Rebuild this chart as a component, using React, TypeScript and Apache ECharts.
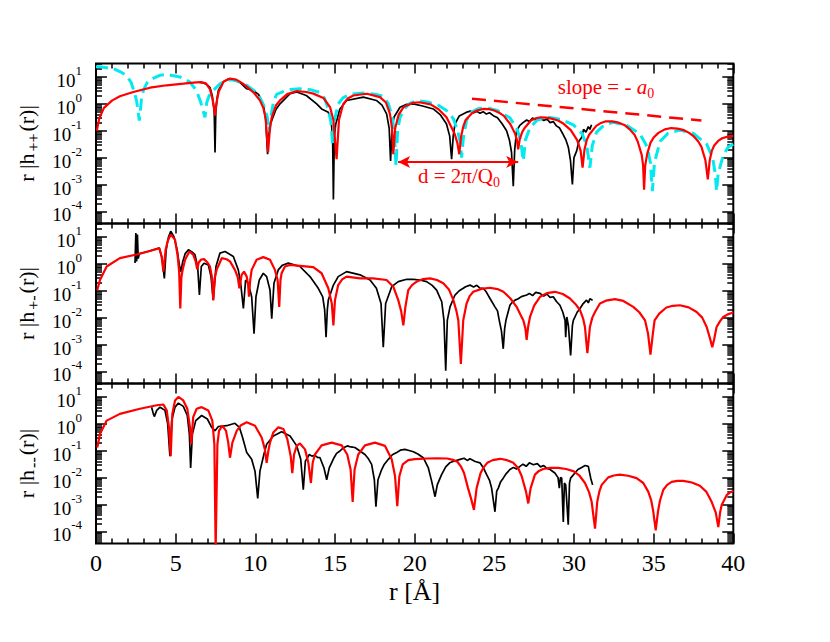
import React, { useEffect, useRef } from "react";
import * as echarts from "echarts";

const FONT = "'Liberation Serif', 'Times New Roman', serif";

// x: r in Angstrom; second value: log10 of r|h(r)|
const ppTheoryExp: [number, number][] = [[0.05,-1.0],[0.2,-0.55],[0.5,-0.15],[1.0,0.12],[1.5,0.28],[2.34,0.44],[3.39,0.6],[4.44,0.69],[5.48,0.75],[6.3,0.8],[6.6,0.81],[6.9,0.76],[7.15,0.55],[7.3,0.2],[7.4,-0.1],[7.47,-0.44],[7.55,0.0],[7.7,0.45],[8.0,0.82],[8.4,0.94],[8.8,0.9],[9.2,0.76],[9.46,0.64],[9.9,0.42],[10.29,0.13],[10.5,-0.15],[10.65,-0.55],[10.8,-1.8],[10.92,-0.9],[11.03,-0.5],[11.3,-0.05],[11.55,0.13],[12.0,0.36],[12.6,0.475],[13.2,0.44],[13.64,0.38],[14.27,0.22],[14.69,-0.12],[14.9,-0.6],[15.1,-2.06],[15.25,-0.6],[15.52,0.0],[15.8,0.2],[16.15,0.31],[17.0,0.375],[17.82,0.25],[18.2,0.05],[18.45,-0.375],[18.58,-0.9],[18.66,-1.875],[18.78,-0.9],[19.0,-0.4],[19.3,-0.12],[19.9,0.04],[20.3,0.06],[21.0,-0.02],[21.5,-0.2],[22.0,-0.5],[22.5,-1.1],[22.68,-1.45],[22.8,-1.875],[22.92,-1.2],[23.05,-0.85],[23.2,-0.6],[23.6,-0.35],[23.9,-0.25],[24.3,-0.19],[24.7,-0.2],[25.0,-0.25],[25.3,-0.33],[25.6,-0.45],[26.0,-0.75],[26.3,-1.1],[26.42,-1.35],[26.5,-1.69],[26.6,-1.3],[26.75,-1.05],[26.9,-0.9],[27.3,-0.62],[27.6,-0.54],[27.9,-0.5],[28.25,-0.51],[28.6,-0.55],[29.0,-0.62],[29.3,-0.72],[29.8,-0.98],[30.2,-1.35],[30.42,-1.75],[30.54,-2.375],[30.66,-1.7],[30.8,-1.35],[30.95,-1.15],[31.4,-0.82],[31.7,-0.71],[32.0,-0.65],[32.4,-0.65],[32.8,-0.7],[33.2,-0.8],[33.5,-0.95],[33.8,-1.15],[34.0,-1.4],[34.25,-1.9],[34.34,-2.3],[34.4,-3.19],[34.47,-2.3],[34.6,-1.85],[34.8,-1.45],[35.0,-1.25],[35.3,-1.08],[35.7,-0.95],[36.1,-0.9],[36.5,-0.92],[36.9,-0.98],[37.2,-1.07],[37.5,-1.2],[37.8,-1.4],[38.0,-1.6],[38.25,-2.1],[38.4,-2.81],[38.52,-2.1],[38.65,-1.75],[38.8,-1.55],[39.05,-1.38],[39.3,-1.28],[39.65,-1.22],[40.0,-1.19]];

const ppSimExp: [number, number][] = [[6.5,0.8],[6.73,0.78],[7.0,0.7],[7.16,0.6],[7.3,0.3],[7.42,-0.3],[7.47,-1.81],[7.52,-0.3],[7.6,0.2],[7.68,0.5],[8.0,0.82],[8.3,0.92],[8.62,0.88],[9.04,0.8],[9.46,0.56],[9.87,0.5],[10.2,0.35],[10.5,0.0],[10.65,-0.6],[10.77,-1.875],[10.88,-0.9],[11.03,-0.62],[11.3,-0.2],[11.55,0.0],[12.18,0.375],[12.6,0.44],[13.2,0.31],[13.85,0.0],[14.16,-0.19],[14.58,-0.31],[14.75,-0.6],[14.85,-1.2],[14.9,-3.56],[14.96,-1.2],[15.05,-0.75],[15.3,-0.2],[15.73,0.125],[16.78,0.25],[17.6,0.125],[17.95,-0.05],[18.24,-0.375],[18.4,-0.9],[18.49,-2.125],[18.58,-0.9],[18.7,-0.5],[19.08,-0.125],[19.5,-0.02],[19.92,0.0],[20.5,-0.08],[21.17,-0.19],[21.6,-0.4],[22.0,-0.75],[22.2,-1.2],[22.32,-2.06],[22.42,-1.2],[22.53,-0.75],[22.8,-0.45],[23.26,-0.31],[23.5,-0.27],[23.7,-0.33],[23.9,-0.28],[24.1,-0.35],[24.3,-0.29],[24.5,-0.38],[24.7,-0.33],[24.94,-0.44],[25.2,-0.52],[25.5,-0.75],[25.77,-1.0],[25.95,-1.35],[26.08,-1.8],[26.19,-3.06],[26.28,-1.7],[26.4,-1.0],[26.6,-0.8],[26.8,-0.7],[27.03,-0.6],[27.2,-0.66],[27.4,-0.53],[27.6,-0.6],[27.87,-0.53],[28.1,-0.62],[28.3,-0.56],[28.5,-0.7],[28.7,-0.66],[28.9,-0.82],[29.1,-0.9],[29.33,-1.15],[29.5,-1.35],[29.65,-1.625],[29.78,-2.1],[29.9,-3.0],[30.0,-2.0],[30.17,-1.75],[30.3,-1.4],[30.48,-1.25],[30.6,-0.95],[30.75,-1.05],[30.9,-0.85],[31.0,-0.95],[31.1,-0.78]];

const ppAltExp: [number, number][] = [[0.0,1.38],[0.25,1.375],[1.09,1.31],[1.5,1.2],[1.92,1.05],[2.2,0.8],[2.4,0.45],[2.55,0.1],[2.72,-0.625],[2.85,0.15],[2.97,0.5],[3.2,0.78],[3.39,0.9],[4.0,1.06],[4.44,1.09],[5.27,1.0],[5.9,0.81],[6.3,0.5],[6.55,0.1],[6.7,-0.2],[6.84,-0.5],[6.95,0.05],[7.1,0.3],[7.36,0.5],[7.8,0.75],[8.2,0.875],[8.62,0.9],[9.46,0.69],[10.0,0.45],[10.29,0.22],[10.55,-0.1],[10.75,-0.5],[10.88,-1.05],[11.0,-0.4],[11.15,0.1],[11.34,0.35],[11.8,0.47],[12.18,0.53],[12.8,0.56],[13.5,0.52],[14.06,0.42],[14.35,0.2],[14.58,-0.19],[14.75,-0.7],[14.85,-1.5],[14.97,-0.6],[15.2,0.0],[15.5,0.22],[15.94,0.36],[16.78,0.4],[17.5,0.36],[18.03,0.28],[18.35,0.0],[18.56,-0.4],[18.72,-1.0],[18.83,-2.31],[18.93,-1.0],[19.08,-0.5],[19.4,-0.15],[19.7,0.02],[20.13,0.12],[20.8,0.07],[21.4,-0.02],[22.0,-0.25],[22.43,-0.55],[22.7,-1.0],[22.85,-1.4],[22.95,-2.0],[23.05,-1.3],[23.26,-0.6],[23.6,-0.3],[24.0,-0.18],[24.5,-0.15],[25.2,-0.25],[25.98,-0.52],[26.4,-0.9],[26.65,-1.35],[26.82,-2.125],[26.95,-1.35],[27.24,-0.88],[27.7,-0.6],[28.4,-0.5],[29.2,-0.58],[29.96,-0.78],[30.5,-1.1],[30.8,-1.55],[31.0,-2.375],[31.15,-1.55],[31.42,-1.05],[31.9,-0.78],[32.47,-0.69],[33.3,-0.8],[34.14,-1.12],[34.6,-1.6],[34.8,-2.2],[34.92,-3.25],[35.05,-2.2],[35.4,-1.4],[35.9,-1.1],[36.65,-0.975],[37.5,-1.1],[38.33,-1.5],[38.7,-2.0],[38.87,-2.6],[38.95,-3.25],[39.05,-2.6],[39.37,-1.9],[39.69,-1.6],[40.0,-1.5]];

const pmTheoryExp: [number, number][] = [[0.08,-0.975],[0.25,-0.6],[0.67,-0.1],[1.5,0.21],[2.76,0.375],[3.81,0.55],[3.97,0.59],[4.12,0.27],[4.23,-0.29],[4.37,0.52],[4.5,0.85],[4.69,1.09],[4.96,0.9],[5.13,0.27],[5.22,-0.3],[5.29,-1.66],[5.36,-0.5],[5.44,-0.22],[5.59,0.15],[5.86,0.46],[6.1,0.34],[6.25,0.1],[6.35,-0.2],[6.45,0.05],[6.6,0.16],[6.78,0.175],[7.0,0.05],[7.15,-0.1],[7.28,-0.5],[7.36,-1.35],[7.45,-0.55],[7.57,-0.225],[7.89,0.21],[8.2,0.17],[8.41,0.09],[8.72,-0.225],[8.9,-0.5],[9.0,-0.91],[9.14,-0.41],[9.29,-0.29],[9.46,-0.475],[9.55,-0.8],[9.6,-1.225],[9.68,-0.6],[9.77,-0.225],[10.08,0.15],[10.5,0.25],[10.92,0.15],[11.23,-0.225],[11.4,-0.6],[11.5,-1.6],[11.58,-0.6],[11.65,-0.35],[11.86,-0.1],[12.18,-0.04],[12.8,-0.075],[13.64,-0.125],[14.16,-0.35],[14.58,-0.91],[14.8,-1.475],[14.9,-2.29],[15.0,-1.35],[15.2,-0.79],[15.45,-0.58],[15.73,-0.475],[16.57,-0.54],[17.4,-0.54],[18.24,-0.6],[18.66,-0.85],[18.97,-1.35],[19.15,-1.75],[19.29,-2.29],[19.42,-1.6],[19.6,-0.975],[19.85,-0.78],[20.13,-0.66],[20.5,-0.57],[20.96,-0.54],[21.4,-0.6],[21.8,-0.725],[22.15,-0.95],[22.43,-1.35],[22.62,-1.75],[22.74,-2.1],[22.9,-3.725],[23.05,-2.1],[23.26,-1.475],[23.45,-1.2],[23.68,-1.04],[24.2,-0.93],[24.73,-0.89],[25.2,-0.94],[25.57,-1.04],[26.0,-1.28],[26.4,-1.6],[26.65,-1.9],[26.82,-2.1],[26.95,-2.4],[27.03,-2.825],[27.12,-2.35],[27.24,-1.975],[27.5,-1.55],[27.87,-1.225],[28.3,-1.09],[28.8,-1.04],[29.3,-1.12],[29.75,-1.29],[30.1,-1.5],[30.38,-1.725],[30.58,-2.05],[30.69,-2.35],[30.84,-3.325],[31.0,-2.35],[31.15,-2.0],[31.32,-1.79],[31.63,-1.475],[32.0,-1.37],[32.57,-1.31],[33.1,-1.38],[33.72,-1.6],[34.1,-1.8],[34.46,-2.1],[34.65,-2.6],[34.8,-3.375],[34.95,-2.6],[35.06,-2.1],[35.35,-1.85],[35.8,-1.625],[36.2,-1.56],[36.65,-1.54],[37.2,-1.62],[37.7,-1.79],[38.05,-2.0],[38.33,-2.35],[38.55,-2.8],[38.68,-3.1],[38.8,-2.8],[38.95,-2.35],[39.15,-2.15],[39.37,-1.975],[39.65,-1.88],[39.9,-1.825],[40.0,-1.8]];

const pmSimExp: [number, number][] = [[2.45,0.03],[2.5,1.15],[2.55,0.09],[2.6,1.09],[2.65,0.2],[2.72,0.38],[3.2,0.45],[3.6,0.52],[3.97,0.59],[4.15,0.2],[4.29,-0.54],[4.4,0.5],[4.55,1.0],[4.69,1.21],[4.9,1.0],[5.1,0.5],[5.22,0.0],[5.32,-0.3],[5.45,0.1],[5.6,0.38],[5.8,0.525],[6.0,0.45],[6.21,0.34],[6.38,-0.1],[6.49,-1.16],[6.61,-0.1],[6.78,0.025],[7.05,-0.04],[7.22,-0.475],[7.36,-1.35],[7.53,-0.1],[7.78,0.4],[8.1,0.46],[8.62,0.275],[8.93,-0.225],[9.08,-0.725],[9.25,-1.66],[9.39,-0.6],[9.56,-0.725],[9.77,-1.225],[9.92,-2.6],[10.04,-1.225],[10.25,-0.6],[10.5,-0.35],[10.71,-0.475],[10.92,-0.975],[11.03,-2.04],[11.17,-0.725],[11.44,-0.225],[11.7,-0.05],[12.07,0.025],[12.8,-0.1],[13.43,-0.475],[13.95,-0.91],[14.23,-1.225],[14.35,-1.7],[14.44,-2.725],[14.52,-1.7],[14.58,-1.35],[14.9,-0.79],[15.2,-0.475],[15.73,-0.29],[16.57,-0.41],[17.2,-0.6],[17.6,-0.91],[17.89,-1.475],[18.03,-3.1],[18.18,-1.475],[18.56,-0.85],[18.97,-0.66],[19.5,-0.575],[19.92,-0.575],[20.33,-0.6],[20.75,-0.66],[21.1,-0.8],[21.38,-0.975],[21.7,-1.41],[21.84,-2.1],[21.95,-3.975],[22.05,-2.1],[22.22,-1.6],[22.53,-1.16],[22.8,-1.0],[23.05,-0.91],[23.2,-0.85],[23.47,-0.79],[23.7,-0.86],[23.9,-0.8],[24.1,-0.9],[24.31,-0.91],[24.5,-1.05],[24.73,-1.29],[25.04,-1.6],[25.2,-1.75],[25.31,-2.1],[25.45,-2.5],[25.56,-3.16],[25.65,-2.4],[25.73,-2.1],[25.98,-1.54],[26.1,-1.45],[26.3,-1.35],[26.5,-1.3],[26.7,-1.22],[27.03,-1.16],[27.2,-1.1],[27.4,-1.18],[27.6,-1.06],[27.87,-1.1],[28.1,-1.2],[28.3,-1.12],[28.5,-1.25],[28.7,-1.225],[28.9,-1.4],[29.12,-1.54],[29.3,-1.8],[29.44,-2.1],[29.48,-2.725],[29.55,-1.975],[29.65,-2.3],[29.79,-3.41],[29.9,-2.3],[29.96,-2.1],[30.2,-1.8],[30.38,-1.66],[30.55,-1.5],[30.79,-1.35],[30.9,-1.45],[31.0,-1.3],[31.17,-1.35]];

const mmTheoryExp: [number, number][] = [[0.08,-0.88],[0.25,-0.38],[0.67,0.12],[1.5,0.37],[2.76,0.56],[3.81,0.69],[4.23,0.72],[4.44,0.5],[4.58,-0.13],[4.69,-1.2],[4.79,0.37],[4.96,0.87],[5.17,1.0],[5.48,0.87],[5.73,0.56],[5.9,-0.13],[5.98,-0.76],[6.1,0.25],[6.32,0.56],[6.63,0.62],[7.05,0.5],[7.3,0.12],[7.43,-0.76],[7.51,-4.7],[7.62,-0.76],[7.72,-0.26],[7.93,-0.07],[8.16,-0.26],[8.3,-0.7],[8.41,-1.26],[8.56,-0.7],[8.83,-0.26],[9.1,-0.05],[9.46,0.06],[9.98,-0.07],[10.4,-0.51],[10.6,-0.95],[10.71,-1.45],[10.82,-1.0],[10.92,-0.7],[11.13,-0.32],[11.44,-0.13],[11.76,-0.19],[12.01,-0.57],[12.22,-1.2],[12.32,-1.83],[12.43,-1.14],[12.6,-0.82],[12.8,-0.73],[13.12,-0.95],[13.33,-1.45],[13.49,-2.2],[13.6,-1.45],[13.74,-1.14],[14.16,-0.8],[14.79,-0.7],[15.42,-0.8],[15.77,-1.14],[15.98,-1.7],[16.11,-2.9],[16.23,-1.7],[16.46,-1.14],[16.88,-0.8],[17.51,-0.7],[18.14,-0.82],[18.56,-1.32],[18.77,-1.95],[18.91,-3.06],[19.04,-1.95],[19.25,-1.51],[19.6,-1.35],[20.0,-1.31],[20.33,-1.3],[20.75,-1.29],[21.4,-1.28],[22.05,-1.29],[22.4,-1.34],[22.68,-1.41],[22.9,-1.58],[23.1,-1.83],[23.35,-2.39],[23.55,-2.8],[23.72,-3.2],[23.89,-2.39],[24.14,-1.83],[24.35,-1.6],[24.56,-1.45],[24.9,-1.35],[25.36,-1.3],[25.8,-1.35],[26.19,-1.45],[26.5,-1.65],[26.72,-1.95],[26.99,-2.52],[27.13,-2.96],[27.28,-2.39],[27.55,-1.89],[27.8,-1.75],[28.07,-1.68],[28.5,-1.64],[29.02,-1.64],[29.5,-1.68],[29.96,-1.76],[30.35,-1.93],[30.69,-2.2],[30.95,-2.55],[31.11,-2.9],[31.32,-3.9],[31.46,-2.9],[31.6,-2.5],[31.74,-2.27],[32.15,-1.99],[32.5,-1.92],[32.87,-1.89],[33.4,-1.93],[33.93,-2.02],[34.35,-2.2],[34.66,-2.52],[34.85,-2.85],[34.98,-3.27],[35.13,-3.96],[35.27,-3.27],[35.4,-2.85],[35.61,-2.45],[35.85,-2.27],[36.13,-2.16],[36.5,-2.12],[36.86,-2.12],[37.4,-2.18],[37.9,-2.3],[38.3,-2.52],[38.64,-2.9],[38.9,-3.3],[39.06,-3.84],[39.17,-3.3],[39.27,-3.02],[39.6,-2.64],[39.8,-2.55],[40.0,-2.5]];

const mmSimExp: [number, number][] = [[3.49,0.62],[3.6,0.37],[3.66,0.27],[3.81,0.5],[4.02,0.62],[4.33,0.5],[4.5,0.0],[4.64,-1.2],[4.75,0.12],[4.96,0.62],[5.17,0.77],[5.48,0.65],[5.73,0.31],[5.86,-0.38],[5.94,-1.64],[6.05,-0.38],[6.26,0.12],[6.63,0.31],[6.99,0.18],[7.26,-0.13],[7.47,-0.26],[7.68,-0.1],[8.2,-0.07],[8.72,0.02],[9.0,-0.13],[9.2,-0.51],[9.46,-1.07],[9.77,-1.32],[9.98,-1.76],[10.15,-2.77],[10.29,-1.76],[10.54,-1.13],[10.71,-0.76],[11.13,-0.45],[11.65,-0.29],[12.18,-0.45],[12.6,-0.82],[12.85,-1.32],[13.01,-2.45],[13.14,-1.39],[13.39,-1.14],[13.55,-1.2],[13.74,-1.17],[13.9,-1.25],[14.06,-1.26],[14.31,-1.64],[14.48,-2.08],[14.64,-1.64],[14.94,-1.26],[15.1,-1.1],[15.31,-1.01],[15.5,-0.9],[15.77,-0.82],[16.0,-0.86],[16.25,-0.88],[16.5,-0.98],[16.88,-1.14],[17.1,-1.3],[17.3,-1.51],[17.47,-2.08],[17.57,-3.08],[17.7,-2.08],[17.93,-1.7],[18.1,-1.5],[18.35,-1.32],[18.6,-1.15],[18.87,-1.07],[19.1,-0.98],[19.39,-0.95],[19.65,-0.99],[19.92,-1.04],[20.2,-1.12],[20.54,-1.26],[20.86,-1.64],[21.07,-2.14],[21.28,-2.71],[21.42,-2.27],[21.69,-1.89],[21.95,-1.6],[22.2,-1.45],[22.5,-1.38],[22.85,-1.32],[23.1,-1.28],[23.3,-1.36],[23.47,-1.3],[23.8,-1.4],[24.1,-1.45],[24.3,-1.62],[24.52,-1.89],[24.7,-2.1],[24.83,-2.39],[25.04,-3.27],[25.15,-2.5],[25.25,-2.39],[25.4,-2.15],[25.56,-2.02],[25.75,-1.85],[25.98,-1.7],[26.2,-1.62],[26.4,-1.68],[26.61,-1.58],[26.8,-1.5],[27.0,-1.58],[27.2,-1.45],[27.45,-1.52],[27.7,-1.48],[27.9,-1.6],[28.1,-1.55],[28.28,-1.65],[28.5,-1.7],[28.8,-1.83],[29.0,-2.0],[29.08,-2.39],[29.15,-2.0],[29.23,-2.02],[29.33,-3.65],[29.4,-2.2],[29.48,-2.27],[29.64,-3.75],[29.72,-2.2],[29.79,-2.02],[30.06,-1.83],[30.25,-1.7],[30.48,-1.62],[30.7,-1.55],[30.9,-1.58],[31.05,-2.02],[31.17,-2.27]];

// annotation guide (slope) in data units and d-arrow endpoints
const slopeLine: [number, number][] = [[23.6, 1.55], [38.0, 0.24]];
const dArrow: [number, number][] = [[18.96, 0.0069], [26.5, 0.0069]];

const yMajorTicks = [1e-4, 1e-3, 1e-2, 1e-1, 1, 10];
const yMinorMultipliers = [2, 3, 4, 5, 6, 7, 8, 9];
const Y_MIN = Math.pow(10, -4.45);
const Y_MAX = Math.pow(10, 1.5);
const yMinorTicks: number[] = [];
[1e-5, 1e-4, 1e-3, 1e-2, 1e-1, 1, 10].forEach((d) =>
  yMinorMultipliers.forEach((m) => {
    const v = d * m;
    if (v > Y_MIN && v < Y_MAX) yMinorTicks.push(v);
  })
);

const yTitles = [
  "{t|r |h}{s|++}{t|(r)|}",
  "{t|r |h}{s|+-}{t|(r)|}",
  "{t|r |h}{s|--}{t|(r)|}",
];

const RED = "#ff0000";
const CYAN = "#00eaf0";

const toData = (arr: [number, number][]) => arr.map(([r, e]) => [r, Math.pow(10, e)]);

const GRID_LEFT = 96;
const GRID_WIDTH = 637.3;
const GRID_TOPS = [63.5, 223.5, 383.5];
const GRID_H = 160;

function xAxisFor(grid: number, position: "top" | "bottom", labels: boolean) {
  return {
    type: "value",
    gridIndex: grid,
    position,
    min: 0,
    max: 40,
    interval: 5,
    axisLine: { show: false, onZero: false },
    axisTick: { show: true, inside: true, length: 10, lineStyle: { color: "#000", width: 1.5 } },
    minorTick: { show: true, splitNumber: 5, length: 5, lineStyle: { color: "#000", width: 1.5 } },
    axisLabel: { show: labels, fontFamily: FONT, fontSize: 24, color: "#000", margin: 7 },
    splitLine: { show: false },
    minorSplitLine: { show: false },
    name: labels ? "r [Å]" : "",
    nameLocation: "middle",
    nameGap: 35,
    nameTextStyle: { fontFamily: FONT, fontSize: 26, color: "#000" },
  };
}

function yAxisFor(grid: number, position: "left" | "right", major: boolean, labels: boolean) {
  return {
    type: "log",
    logBase: 10,
    gridIndex: grid,
    position,
    min: Y_MIN,
    max: Y_MAX,
    axisLine: { show: false, onZero: false },
    axisTick: {
      show: true,
      inside: true,
      length: major ? 11 : 6,
      customValues: major ? yMajorTicks : yMinorTicks,
      lineStyle: { color: "#000", width: 1.5 },
    },
    minorTick: { show: false },
    splitLine: { show: false },
    axisLabel: {
      show: labels,
      customValues: yMajorTicks,
      margin: 14,
      formatter: (v: number) => `{b|10}{s|${Math.round(Math.log10(v))}}`,
      rich: {
        b: { fontFamily: FONT, fontSize: 19, color: "#000", verticalAlign: "bottom", padding: [7, 0, 0, 0] },
        s: { fontFamily: FONT, fontSize: 13, color: "#000", verticalAlign: "top" },
      },
    },
    name: labels ? yTitles[grid] : "",
    nameLocation: "middle",
    nameRotate: 90,
    nameGap: 48,
    nameTextStyle: {
      rich: {
        t: { fontFamily: FONT, fontSize: 22, color: "#000", verticalAlign: "top" },
        s: { fontFamily: FONT, fontSize: 16, color: "#000", verticalAlign: "bottom", padding: [10, 2, 0, 2] },
      },
    },
  };
}

function lineSeries(data: [number, number][], grid: number, color: string, width: number, dash?: number[]) {
  return {
    type: "line",
    xAxisIndex: grid * 2,
    yAxisIndex: grid * 4,
    data: toData(data),
    symbol: "none",
    showSymbol: false,
    silent: true,
    lineStyle: { color, width, type: dash ? dash : "solid" },
    itemStyle: { color },
  };
}

// empty series so that every tick-only axis is bound to something
function anchorSeries(grid: number, yIdx: number) {
  return {
    type: "line",
    xAxisIndex: grid * 2 + 1,
    yAxisIndex: grid * 4 + yIdx,
    data: [] as number[][],
    symbol: "none",
    silent: true,
  };
}

function buildOption() {
  const grid = GRID_TOPS.map((top) => ({
    left: GRID_LEFT,
    width: GRID_WIDTH,
    top,
    height: GRID_H,
    show: true,
    borderColor: "#000",
    borderWidth: 2,
    backgroundColor: "transparent",
  }));
  const xAxis: any[] = [];
  const yAxis: any[] = [];
  for (let g = 0; g < 3; g++) {
    xAxis.push(xAxisFor(g, "bottom", g === 2));
    xAxis.push(xAxisFor(g, "top", false));
    yAxis.push(yAxisFor(g, "left", true, true));
    yAxis.push(yAxisFor(g, "right", true, false));
    yAxis.push(yAxisFor(g, "right", false, false));
    yAxis.push(yAxisFor(g, "left", false, false));
  }
  const slope: any = {
    type: "line",
    xAxisIndex: 0,
    yAxisIndex: 0,
    data: slopeLine,
    symbol: "none",
    silent: true,
    lineStyle: { color: RED, width: 2.5, type: [14, 8] },
    itemStyle: { color: RED },
    markLine: {
      silent: true,
      symbol: ["arrow", "arrow"],
      symbolSize: [9, 12],
      label: { show: false },
      lineStyle: { color: RED, width: 2, type: "solid" },
      data: [[{ coord: dArrow[0] }, { coord: dArrow[1] }]],
    },
  };
  const series: any[] = [
    lineSeries(ppSimExp, 0, "#000", 1.7),
    lineSeries(ppAltExp, 0, CYAN, 3, [12, 6]),
    lineSeries(ppTheoryExp, 0, RED, 2.2),
    slope,
    lineSeries(pmSimExp, 1, "#000", 1.7),
    lineSeries(pmTheoryExp, 1, RED, 2.2),
    lineSeries(mmSimExp, 2, "#000", 1.7),
    lineSeries(mmTheoryExp, 2, RED, 2.2),
  ];
  for (let g = 0; g < 3; g++) {
    series.push(anchorSeries(g, 1), anchorSeries(g, 2), anchorSeries(g, 3));
  }
  const graphic = [
    {
      type: "text",
      x: 606,
      y: 88,
      silent: true,
      style: {
        text: "{n|slope = - }{i|a}{s|0}",
        align: "center",
        verticalAlign: "middle",
        rich: {
          n: { fontFamily: FONT, fontSize: 21, fill: RED, verticalAlign: "top" },
          i: { fontFamily: FONT, fontSize: 21, fontStyle: "italic", fill: RED, verticalAlign: "top" },
          s: { fontFamily: FONT, fontSize: 14, fill: RED, verticalAlign: "bottom", padding: [10, 0, 0, 0] },
        },
      },
    },
    {
      type: "text",
      x: 459,
      y: 177,
      silent: true,
      style: {
        text: "{n|d = 2π/Q}{s|0}",
        align: "center",
        verticalAlign: "middle",
        rich: {
          n: { fontFamily: FONT, fontSize: 21, fill: RED, verticalAlign: "top" },
          s: { fontFamily: FONT, fontSize: 14, fill: RED, verticalAlign: "bottom", padding: [10, 0, 0, 0] },
        },
      },
    },
  ];
  return { animation: false, backgroundColor: "#fff", grid, xAxis, yAxis, series, graphic };
}

export default function App() {
  const ref = useRef<HTMLDivElement>(null);
  useEffect(() => {
    if (!ref.current) return;
    const chart = echarts.init(ref.current, undefined, { renderer: "svg" });
    chart.setOption(buildOption() as any);
    return () => chart.dispose();
  }, []);
  return (
    <div
      ref={ref}
      style={{ position: "fixed", left: 0, top: 0, width: 830, height: 642, background: "#fff" }}
    />
  );
}
